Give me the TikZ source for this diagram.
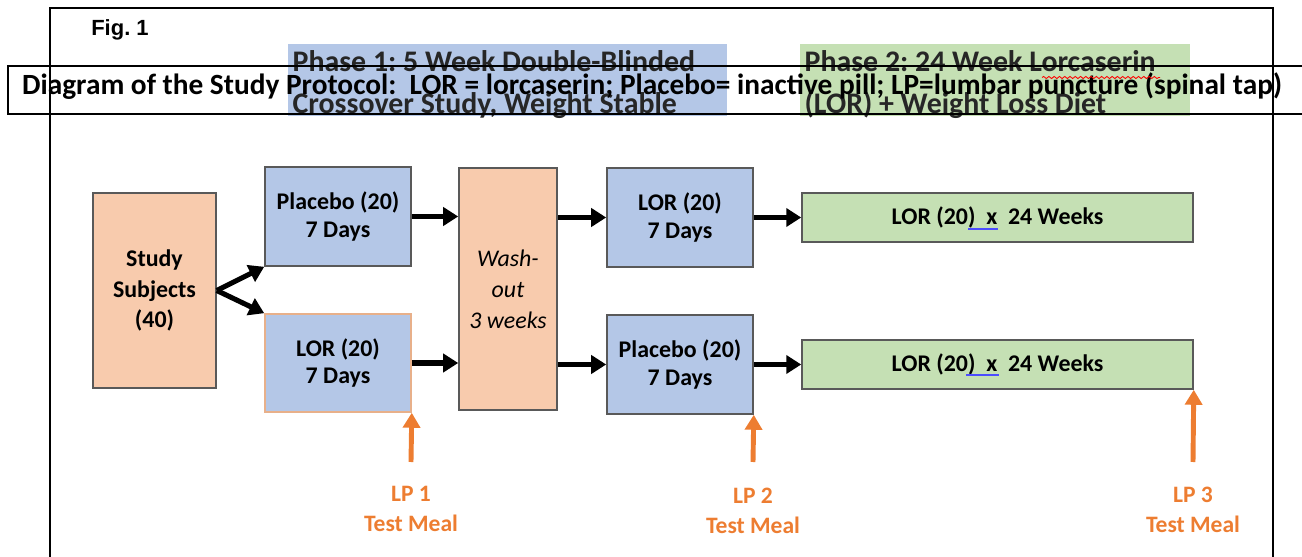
\documentclass[tikz,border=0pt]{standalone}
\usepackage{fontspec}
\setmainfont{Carlito}
\newfontfamily\figfont{Liberation Sans}
\usetikzlibrary{arrows.meta,decorations.pathmorphing}
\frenchspacing
\definecolor{boxblue}{HTML}{B4C7E7}
\definecolor{boxpeach}{HTML}{F8CBAD}
\definecolor{boxgreen}{HTML}{C5E0B4}
\definecolor{lporange}{HTML}{ED7D31}
\definecolor{boxline}{HTML}{595959}
\definecolor{lorline}{HTML}{E8B08A}
\definecolor{phasetext}{HTML}{262626}
\tikzset{
  armbox/.style={draw=boxline, line width=0.9pt, align=center, inner sep=0pt,
    font=\fontsize{13.6}{15.6}\selectfont\bfseries},
  phasebox/.style={align=left, inner xsep=3pt, inner ysep=0pt,
    text=phasetext, font=\fontsize{17}{24.2}\selectfont\bfseries},
  arr/.style={line width=2.9pt, -{Triangle[length=0.3cm,width=0.36cm]}},
  lparr/.style={line width=2.8pt, draw=lporange, -{Triangle[length=0.3cm,width=0.34cm]}},
  lplabel/.style={align=center, text=lporange, font=\fontsize{13.4}{17}\selectfont\bfseries}
}
\begin{document}
\begin{tikzpicture}[x=0.02cm,y=-0.02cm]
\useasboundingbox (0,0) rectangle (1302,557);
\draw[line width=0.8pt] (50,557) -- (50,8) -- (1273,8) -- (1273,557);
\node[font=\figfont\fontsize{12.5}{14}\selectfont\bfseries] (fig) at (120,30) {Fig. 1};
\fill[boxblue] (288,44) rectangle (727,116);
\fill[boxgreen] (800,44) rectangle (1190,116);
\node[phasebox, anchor=north west] (ph1) at (287,50)
  {Phase 1: 5 Week Double-Blinded\\Crossover Study, Weight Stable};
\node[phasebox, anchor=north west] (ph2) at (799,50)
  {Phase 2: 24 Week Lorcaserin\\(LOR) + Weight Loss Diet};
\draw[line width=0.8pt] (1302,66) -- (8,66) -- (8,114) -- (1302,114);
\node[font=\fontsize{16.7}{19}\selectfont\bfseries] (title) at (652,86)
  {Diagram of the Study Protocol:\ \ LOR = lorcaserin; Placebo= inactive pill; LP=lumbar puncture (spinal tap)};
\draw[red, line width=0.5pt, decorate, decoration={snake, amplitude=0.6pt, segment length=3pt}] (1042,77.5) -- (1160,77.5);

\node[armbox, fill=boxpeach, minimum width=2.46cm, minimum height=3.9cm, font=\fontsize{13.6}{17.6}\selectfont\bfseries] (subj) at (154.5,290.5) {Study\\Subjects\\(40)};
\node[armbox, fill=boxblue, minimum width=2.92cm, minimum height=1.98cm] (plc1) at (338,216.5) {Placebo (20)\\7 Days};
\node[armbox, fill=boxblue, draw=lorline, minimum width=2.92cm, minimum height=1.96cm] (lor1) at (338,363) {LOR (20)\\7 Days};
\node[armbox, fill=boxpeach, minimum width=1.96cm, minimum height=4.84cm, font=\fontsize{13.6}{17.6}\selectfont\itshape] (wash) at (508,289) {Wash-\\out\\3 weeks};
\node[armbox, fill=boxblue, minimum width=2.92cm, minimum height=1.98cm] (lor2) at (680,217.5) {LOR (20)\\7 Days};
\node[armbox, fill=boxblue, minimum width=2.92cm, minimum height=1.98cm] (plc2) at (680,364.5) {Placebo (20)\\7 Days};
\node[armbox, fill=boxgreen, minimum width=7.82cm, minimum height=0.98cm] (diet1) at (997.5,217.5) {LOR (20)~~x~~24 Weeks};
\node[armbox, fill=boxgreen, minimum width=7.82cm, minimum height=0.98cm] (diet2) at (997.5,364.5) {LOR (20)~~x~~24 Weeks};
\draw[blue!70, line width=0.6pt] (968,229) -- (998,229);
\draw[blue!70, line width=0.6pt] (966,375) -- (999,375);

\draw[arr] (subj.east) -- (plc1.south west);
\draw[arr] (subj.east) -- (lor1.north west);
\draw[arr] (plc1.east) -- (plc1.east -| wash.west);
\draw[arr] (lor1.east) -- (lor1.east -| wash.west);
\draw[arr] (wash.east |- lor2.west) -- (lor2.west);
\draw[arr] (wash.east |- plc2.west) -- (plc2.west);
\draw[arr] (lor2.east) -- (diet1.west);
\draw[arr] (plc2.east) -- (diet2.west);

\coordinate (lp1) at (411,462);
\coordinate (lp2) at (753,462);
\coordinate (lp3) at (1193,462);
\draw[lparr] (lp1) -- (lor1.south east);
\draw[lparr] (lp2) -- (plc2.south east);
\draw[lparr] (lp3) -- (diet2.south east);
\node[lplabel] (lab1) at (411,509) {LP 1\\Test Meal};
\node[lplabel] (lab2) at (753,511) {LP 2\\Test Meal};
\node[lplabel] (lab3) at (1193,510) {LP 3\\Test Meal};
\end{tikzpicture}
\end{document}
